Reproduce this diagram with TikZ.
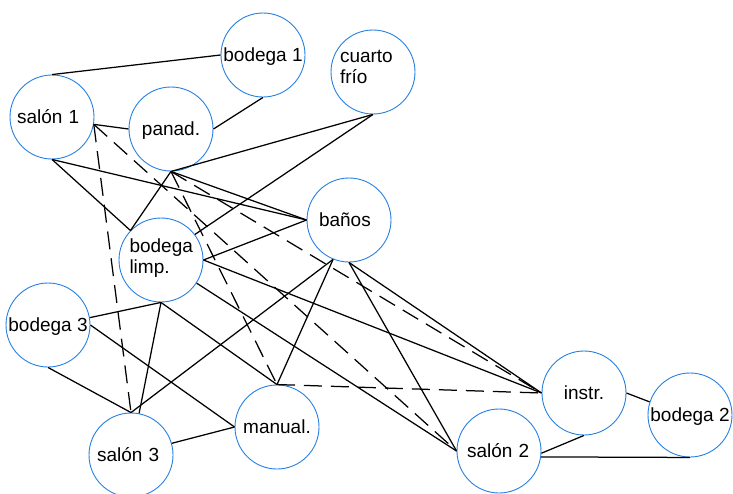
\documentclass[tikz,border=0pt]{standalone}
\usepackage{fontspec}
\setmainfont{Liberation Sans}
\definecolor{ringblue}{RGB}{38,128,228}
\begin{document}
\begin{tikzpicture}[x=1pt,y=-1pt,
  place/.style={circle,draw=ringblue,line width=0.9pt,minimum size=84pt,inner sep=0pt,
    font=\fontsize{19}{21}\selectfont,text height=13pt,text depth=0pt},
  leftset/.style={align=left,text width=#1},
  conn/.style={line width=1.25pt,black},
  dconn/.style={conn,dash pattern=on 18pt off 9pt}]
\useasboundingbox (0,0) rectangle (733,493);

% rooms
\node[place,leftset=70pt] (s1)  at (52,117)  {salón 1};
\node[place] (p)   at (171,129) {panad.};
\node[place] (b1)  at (263,55)  {bodega 1};
\node[place,leftset=66pt,text depth=33pt] (cf) at (373,72) {cuarto\\frío};
\node[place,leftset=63pt,text depth=29pt] (bl) at (161,260) {bodega\\limp.};
\node[place,leftset=60pt] (ba)  at (349,220) {baños};
\node[place] (b3)  at (48,325)  {bodega 3};
\node[place,leftset=68pt] (s3)  at (131,455) {salón 3};
\node[place] (m)   at (277,427) {manual.};
\node[place] (ins) at (584,393) {instr.};
\node[place,leftset=64pt] (s2)  at (499,451) {salón 2};
\node[place] (b2)  at (690,415) {bodega 2};

% solid relations
\draw[conn] (s1.north) -- (b1.west);
\draw[conn] (p.east) -- (b1.south);
\draw[conn] (s1.-10) -- (p.west);
\draw[conn] (s1.south) -- (ba.west);
\draw[conn] (s1.south) -- (bl.136);
\draw[conn] (p.south) -- (cf.south);
\draw[conn] (p.south) -- (ba.west);
\draw[conn] (p.south) -- (bl.136);
\draw[conn] (cf.south) -- (bl.37);
\draw[conn] (bl.east) -- (ba.west);
\draw[conn] (bl.east) -- (ins.west);
\draw[conn] (bl.-33) -- (s2.west);
\draw[conn] (bl.south) -- (b3.10);
\draw[conn] (bl.south) -- (s3.79);
\draw[conn] (bl.south) -- (m.north);
\draw[conn] (b3.east) -- (m.west);
\draw[conn] (b3.south) -- (s3.north);
\draw[conn] (s3.north) -- (ba.-112);
\draw[conn] (s3.16) -- (m.west);
\draw[conn] (m.north) -- (ba.-112);
\draw[conn] (ba.south) -- (ins.west);
\draw[conn] (ba.south) -- (s2.west);
\draw[conn] (ins.south) -- (s2.-3);
\draw[conn] (ins.east) -- (b2.162);
\draw[conn] (s2.-8) -- (b2.south);

% dashed relations
\draw[dconn] (s1.-10) -- (s3.north);
\draw[dconn] (s1.-10) -- (s2.west);
\draw[dconn] (p.south) -- (m.north);
\draw[dconn] (p.south) -- (ins.west);
\draw[dconn] (m.north) -- (ins.west);
\end{tikzpicture}
\end{document}
